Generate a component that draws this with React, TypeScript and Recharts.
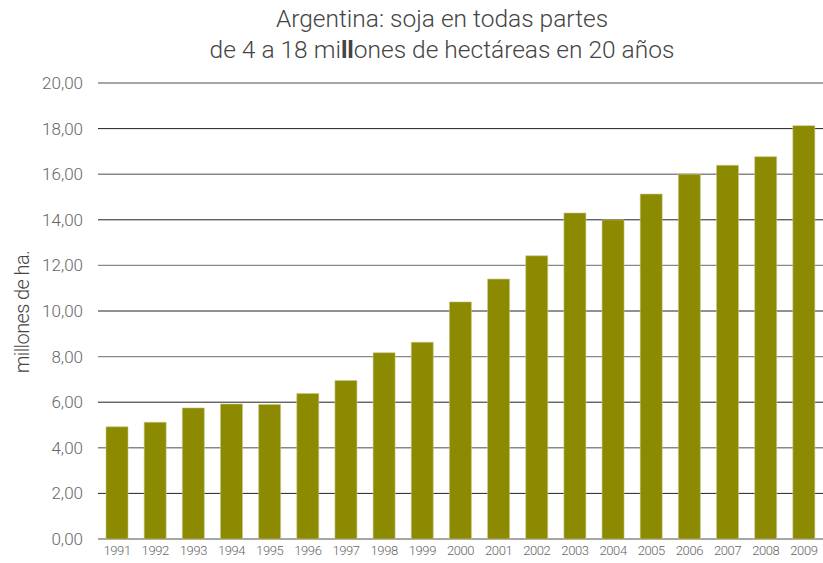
import React from 'react';
import { BarChart, Bar, XAxis, YAxis, CartesianGrid } from 'recharts';

// ── Data ──────────────────────────────────────────────────────────────────────

const YEARS = [
  '1991', '1992', '1993', '1994', '1995', '1996', '1997', '1998', '1999', '2000',
  '2001', '2002', '2003', '2004', '2005', '2006', '2007', '2008', '2009',
];

/** Soy planted area, millions of hectares */
const HECTARES = [
  4.92, 5.12, 5.75, 5.92, 5.9, 6.38, 6.95, 8.17, 8.63, 10.4,
  11.4, 12.42, 14.3, 14.0, 15.13, 16.0, 16.39, 16.77, 18.13,
];

const Y_TICKS = [0, 2, 4, 6, 8, 10, 12, 14, 16, 18, 20];

const BAR_COLOR = '#8c8a00';
const FONT = 'Roboto, "Liberation Sans", sans-serif';

const chartData = YEARS.map((year, i) => ({ year, value: HECTARES[i] }));

// Gridlines alternate between a soft grey and a dark line, as in the original
const GridLine = (props: any) => {
  const { x1, x2, y1, y2, index } = props;
  const dark = index % 2 === 1;
  return (
    <line
      key={`h-${index}`}
      x1={x1}
      x2={x2}
      y1={y1}
      y2={y2}
      stroke={dark ? '#222' : '#888'}
      strokeWidth={dark ? 1 : 1.4}
    />
  );
};

const App: React.FC = () => (
  <div
    style={{
      position: 'absolute',
      left: 0,
      top: 0,
      width: 823,
      height: 563,
      background: '#fff',
      fontFamily: FONT,
    }}
  >
    <div
      style={{
        position: 'absolute',
        left: 0,
        width: 884,
        top: 3,
        textAlign: 'center',
        fontSize: 24.5,
        fontWeight: 300,
        lineHeight: '31px',
        color: '#444',
      }}
    >
      <div>Argentina: soja en todas partes</div>
      <div>
        de 4 a 18 mi<b style={{ fontWeight: 700 }}>ll</b>ones de hectáreas en 20 años
      </div>
    </div>

    <div
      style={{
        position: 'absolute',
        left: 22,
        top: 312,
        transform: 'translate(-50%, -50%) rotate(-90deg)',
        whiteSpace: 'nowrap',
        fontSize: 20,
        letterSpacing: -0.6,
        fontWeight: 300,
        color: '#444',
      }}
    >
      millones de ha.
    </div>

    <div style={{ position: 'absolute', left: 0, top: 0 }}>
      <BarChart
        width={823}
        height={563}
        data={chartData}
        margin={{ top: 83, right: 0, left: 0, bottom: 0 }}
      >
        <CartesianGrid
          vertical={false}
          horizontal={GridLine as any}
          horizontalValues={Y_TICKS}
        />
        <XAxis
          dataKey="year"
          axisLine={false}
          tickLine={false}
          height={24}
          interval={0}
          tickSize={0}
          tickMargin={7}
          tick={{ fill: '#666', fontSize: 13, letterSpacing: -0.4, fontFamily: FONT, fontWeight: 300 }}
        />
        <YAxis
          domain={[0, 20]}
          ticks={Y_TICKS}
          width={98}
          axisLine={false}
          tickLine={false}
          tickSize={0}
          tickMargin={15}
          tick={{ fill: '#666', fontSize: 17, fontFamily: FONT, fontWeight: 300 }}
          tickFormatter={(v: number) => v.toFixed(2).replace('.', ',')}
        />
        <Bar
          dataKey="value"
          fill={BAR_COLOR}
          stroke="#c9c78a"
          strokeWidth={0.6}
          barSize={22}
          isAnimationActive={false}
        />
      </BarChart>
    </div>
  </div>
);

export default App;
